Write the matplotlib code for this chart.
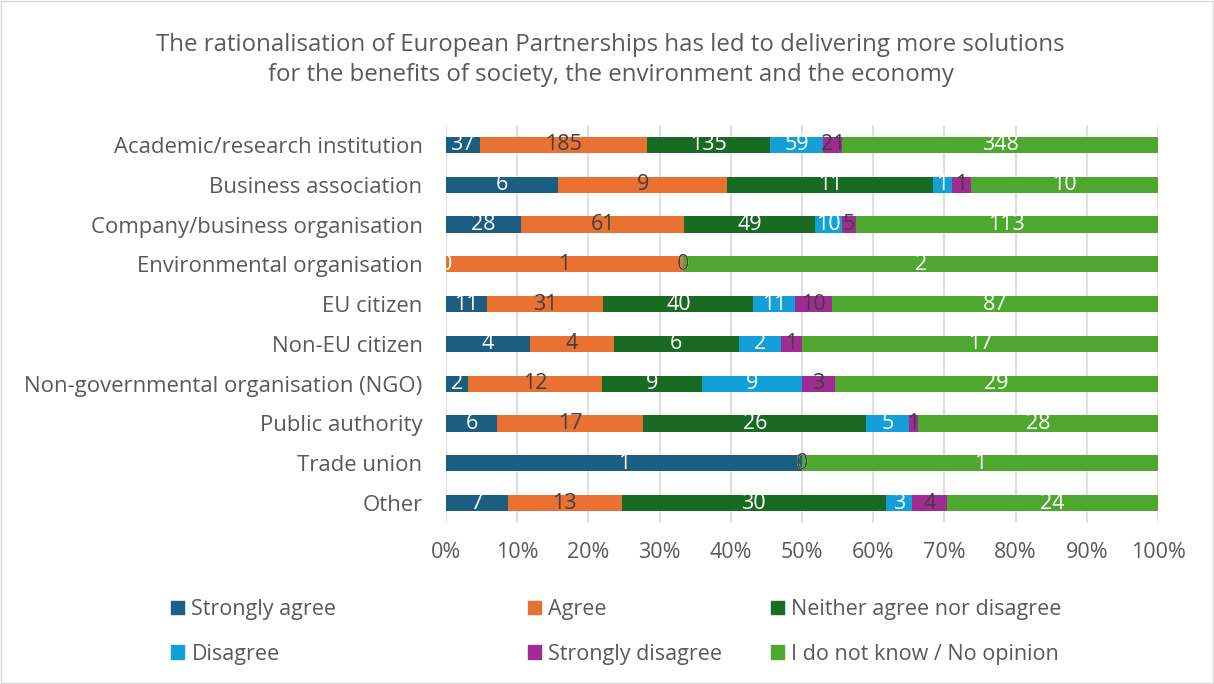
import numpy as np
import matplotlib.pyplot as plt
from matplotlib.patches import Patch, Rectangle

plt.rcParams['font.family'] = ['Open Sans', 'DejaVu Sans']

# data (counts per answer)
categories = ['Academic/research institution', 'Business association',
              'Company/business organisation', 'Environmental organisation',
              'EU citizen', 'Non-EU citizen', 'Non-governmental organisation (NGO)',
              'Public authority', 'Trade union', 'Other']
strongly_agree = [37, 6, 28, 0, 11, 4, 2, 6, 1, 7]
agree = [185, 9, 61, 1, 31, 4, 12, 17, 0, 13]
neither = [135, 11, 49, 0, 40, 6, 9, 26, 0, 30]
disagree = [59, 1, 10, 0, 11, 2, 9, 5, 0, 3]
strongly_disagree = [21, 1, 5, 0, 10, 1, 3, 1, 0, 4]
no_opinion = [348, 10, 113, 2, 87, 17, 29, 28, 1, 24]

series_names = ['Strongly agree', 'Agree', 'Neither agree nor disagree',
                'Disagree', 'Strongly disagree', 'I do not know / No opinion']
colors = ['#1A5E82', '#E97132', '#196B24', '#13A0D8', '#A02B93', '#4EA72E']
label_colors = ['white', '#404040', 'white', 'white', '#404040', 'white']

series = np.array([strongly_agree, agree, neither, disagree, strongly_disagree, no_opinion], dtype=float)
totals = series.sum(axis=0)
shares = series / totals

fig = plt.figure(figsize=(12.14, 6.84), dpi=100)
ax = fig.add_axes([446/1214, 1 - 523/684, 712/1214, 398/684])

y = np.arange(len(categories))
left = np.zeros(len(categories))
bars_all = []
for i in range(len(series_names)):
    bars = ax.barh(y, shares[i], left=left, height=0.41, color=colors[i], label=series_names[i])
    left += shares[i]
    bars_all.append(bars)

for i, bars in enumerate(bars_all):
    ax.bar_label(bars, labels=[str(int(v)) for v in series[i]], label_type='center',
                 color=label_colors[i], fontsize=15.5)

ax.set_xlim(0, 1)
ax.set_ylim(len(categories) - 0.5, -0.5)
ax.set_xticks(np.arange(0, 1.01, 0.1))
ax.set_xticklabels([f'{int(round(t*100))}%' for t in np.arange(0, 1.01, 0.1)])
ax.set_yticks(y)
ax.set_yticklabels(categories)
ax.tick_params(axis='both', length=0, labelsize=15.5, labelcolor='#595959')
ax.tick_params(axis='y', labelsize=15.9, pad=17)
ax.tick_params(axis='x', pad=14)
ax.set_axisbelow(True)
ax.xaxis.grid(True, color='#D9D9D9', lw=1.2)
for s in ax.spines.values():
    s.set_visible(False)

fig.text(0.503, 1 - 45/684, 'The rationalisation of European Partnerships has led to delivering more solutions',
         ha='center', va='center', fontsize=17.3, color='#595959')
fig.text(0.503, 1 - 75/684, 'for the benefits of society, the environment and the economy',
         ha='center', va='center', fontsize=17.3, color='#595959')

# legend: three columns of two entries
col_x = [171/1214, 528/1214, 771/1214]
for c in range(3):
    hs = [Patch(color=colors[c]), Patch(color=colors[c + 3])]
    ls = [series_names[c], series_names[c + 3]]
    fig.legend(hs, ls, loc='upper left', bbox_to_anchor=(col_x[c], 1 - 599/684),
               frameon=False, borderaxespad=0, borderpad=0, handlelength=0.6,
               handleheight=0.6, handletextpad=0.35, labelspacing=1.1,
               fontsize=15.5, labelcolor='#595959')

fig.patches.append(Rectangle((0.001, 0.001), 0.998, 0.998, transform=fig.transFigure,
                             fill=False, ec='#D9D9D9', lw=1))

fig.savefig('out.png', dpi=100)
